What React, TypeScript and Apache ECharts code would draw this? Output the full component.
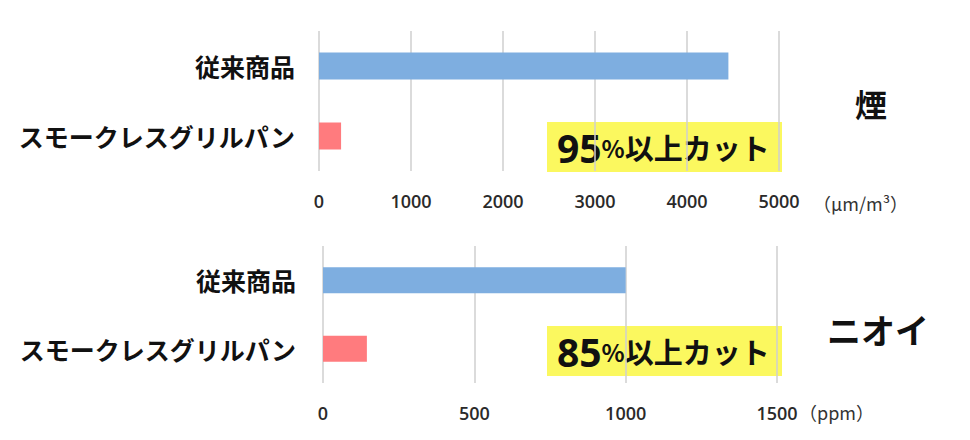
import { useEffect, useRef } from "react";
import * as echarts from "echarts";

// カテゴリ
const categories = ["従来商品", "スモークレスグリルパン"];
// 煙 (μm/m³)
const smokeValues = [4450, 240];
// ニオイ (ppm)
const odorValues = [1000, 145];
const barColors = ["#7eaee0", "#ff7b7e"];

const smokeAxis = { min: 0, max: 5000, interval: 1000 };
const odorAxis = { min: 0, max: 1500, interval: 500 };

const JP = '"Noto Sans CJK JP", "Noto Sans", sans-serif';
const NUM = '"Open Sans", "Noto Sans", sans-serif';

function App() {
  const ref = useRef<HTMLDivElement>(null);

  useEffect(() => {
    if (!ref.current) return;
    const chart = echarts.init(ref.current, null, { renderer: "svg" });

    const catAxis = (gridIndex: number, margin: number) => ({
      type: "category" as const,
      gridIndex,
      data: categories,
      inverse: true,
      axisLine: { show: false },
      axisTick: { show: false },
      axisLabel: {
        margin,
        fontSize: 25,
        fontWeight: "bold" as const,
        color: "#111",
        fontFamily: JP,
      },
    });

    const valAxis = (gridIndex: number, cfg: typeof smokeAxis) => ({
      type: "value" as const,
      gridIndex,
      min: cfg.min,
      max: cfg.max,
      interval: cfg.interval,
      axisLine: { show: false },
      axisTick: { show: false },
      axisLabel: {
        margin: 21,
        fontSize: 18,
        fontWeight: 600,
        color: "#2a2a2a",
        fontFamily: NUM,
        formatter: (v: number) => String(v),
      },
      splitLine: { lineStyle: { color: "#cfcfcf", width: 1.5 } },
    });

    const toData = (vals: number[]) =>
      vals.map((v, i) => ({ value: v, itemStyle: { color: barColors[i] } }));

    const cutBox = (top: number, pct: string) => ({
      type: "group",
      left: 547,
      top,
      children: [
        {
          type: "rect",
          shape: { x: 0, y: 0, width: 235, height: 50 },
          style: { fill: "rgba(250, 246, 60, 0.82)" },
        },
        {
          type: "text",
          x: 10,
          y: 25,
          style: {
            text: `{big|${pct}}{pct|%}{txt|以上カット}`,
            verticalAlign: "middle",
            rich: {
              big: { fontSize: 39, fontWeight: "bold", fontFamily: NUM, fill: "#111" },
              pct: { fontSize: 24, fontWeight: "bold", fontFamily: JP, fill: "#111" },
              txt: { fontSize: 29, fontWeight: "bold", fontFamily: JP, fill: "#111" },
            },
          },
        },
      ],
    });

    chart.setOption({
      animation: false,
      grid: [
        { left: 319, width: 460, top: 31, height: 140 },
        { left: 323, width: 454, top: 246, height: 137 },
      ],
      yAxis: [catAxis(0, 24), catAxis(1, 27)],
      xAxis: [valAxis(0, smokeAxis), valAxis(1, odorAxis)],
      series: [
        {
          type: "bar",
          xAxisIndex: 0,
          yAxisIndex: 0,
          barWidth: 27,
          data: toData(smokeValues),
        },
        {
          type: "bar",
          xAxisIndex: 1,
          yAxisIndex: 1,
          barWidth: 26,
          data: toData(odorValues),
        },
      ],
      graphic: [
        cutBox(122, "95"),
        cutBox(326, "85"),
        {
          type: "text",
          x: 871,
          y: 103,
          style: {
            text: "煙",
            fontSize: 32,
            fontWeight: "bold",
            fontFamily: JP,
            fill: "#111",
            align: "center",
            verticalAlign: "middle",
          },
        },
        {
          type: "text",
          x: 878,
          y: 329,
          style: {
            text: "ニオイ",
            fontSize: 34,
            fontWeight: "bold",
            fontFamily: JP,
            fill: "#111",
            align: "center",
            verticalAlign: "middle",
          },
        },
        {
          type: "text",
          x: 813,
          y: 203,
          style: {
            text: "（μm/m³）",
            fontSize: 18,
            fontFamily: JP,
            fill: "#333",
            verticalAlign: "middle",
          },
        },
        {
          type: "text",
          x: 799,
          y: 412,
          style: {
            text: "（ppm）",
            fontSize: 18,
            fontFamily: JP,
            fill: "#333",
            verticalAlign: "middle",
          },
        },
      ],
    });

    return () => {
      chart.dispose();
    };
  }, []);

  return (
    <div
      ref={ref}
      style={{ position: "fixed", left: 0, top: 0, width: 970, height: 440, background: "#fff" }}
    ></div>
  );
}

export default App;
